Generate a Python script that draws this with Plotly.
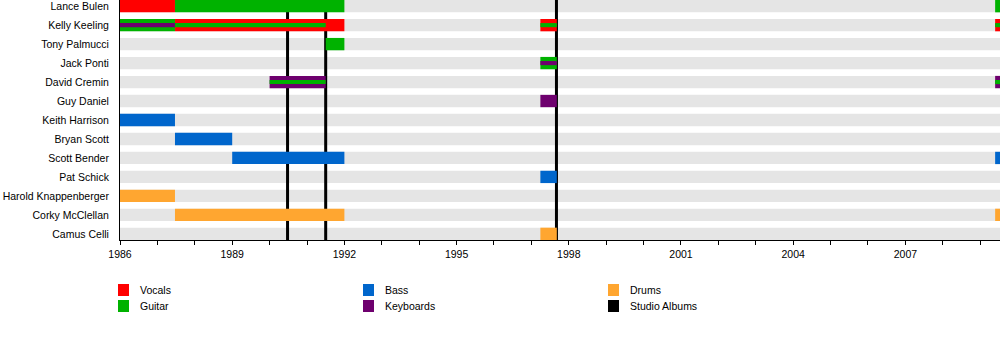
import plotly.graph_objects as go

# ---------------- data ----------------
members = ["Lance Bulen", "Kelly Keeling", "Tony Palmucci", "Jack Ponti", "David Cremin",
           "Guy Daniel", "Keith Harrison", "Bryan Scott", "Scott Bender", "Pat Schick",
           "Harold Knappenberger", "Corky McClellan", "Camus Celli"]

roles = ["Vocals", "Guitar", "Bass", "Keyboards", "Drums", "Studio Albums"]
role_colors = {"Vocals": "#FF0000", "Guitar": "#00B200", "Bass": "#0066CC",
               "Keyboards": "#6E006E", "Drums": "#FFA630", "Studio Albums": "#000000"}

# main bars
bar_member = ["Lance Bulen", "Lance Bulen", "Lance Bulen",
              "Kelly Keeling", "Kelly Keeling", "Kelly Keeling", "Kelly Keeling",
              "Tony Palmucci", "Jack Ponti", "David Cremin", "David Cremin",
              "Guy Daniel", "Keith Harrison", "Bryan Scott", "Scott Bender", "Scott Bender",
              "Pat Schick", "Harold Knappenberger", "Corky McClellan", "Corky McClellan",
              "Camus Celli"]
bar_role = ["Vocals", "Guitar", "Guitar",
            "Guitar", "Vocals", "Vocals", "Vocals",
            "Guitar", "Guitar", "Keyboards", "Keyboards",
            "Keyboards", "Bass", "Bass", "Bass", "Bass",
            "Bass", "Drums", "Drums", "Drums",
            "Drums"]
bar_start = [1986.0, 1987.47, 2009.40,
             1986.0, 1987.47, 1997.24, 2009.40,
             1991.50, 1997.24, 1990.0, 2009.40,
             1997.24, 1986.0, 1987.47, 1989.0, 2009.40,
             1997.24, 1986.0, 1987.47, 2009.40,
             1997.24]
bar_end = [1987.47, 1992.0, 2010.0,
           1987.47, 1992.0, 1997.68, 2010.0,
           1992.0, 1997.68, 1991.5, 2010.0,
           1997.68, 1987.47, 1989.0, 1992.0, 2010.0,
           1997.68, 1987.47, 1992.0, 2010.0,
           1997.68]

# secondary role stripes
stripe_member = ["Kelly Keeling", "Kelly Keeling", "Kelly Keeling", "Kelly Keeling",
                 "Jack Ponti", "David Cremin", "David Cremin"]
stripe_role = ["Keyboards", "Guitar", "Guitar", "Guitar",
               "Keyboards", "Guitar", "Guitar"]
stripe_start = [1986.0, 1987.47, 1997.24, 2009.40, 1997.24, 1990.0, 2009.40]
stripe_end = [1987.47, 1991.5, 1997.68, 2010.0, 1997.68, 1991.5, 2010.0]

album_years = [1990.48, 1991.5, 1997.67]

tick_years = [1986, 1989, 1992, 1995, 1998, 2001, 2004, 2007]

# ---------------- layout helpers ----------------
X0, X1 = 1986.0, 2009.53
W, H = 1000, 360
ML, MR, MT, MB = 120, 0, 0, 120
PW, PH = W - ML - MR, H - MT - MB
ROW_PX = PH / len(members)
BAR_H = 12 / ROW_PX
STRIPE_H = 4 / ROW_PX
Y_BOTTOM = len(members) - 1 + 6 / ROW_PX
Y_TOP = -6 / ROW_PX
idx = {m: i for i, m in enumerate(members)}

fig = go.Figure()

# main bars, grouped by role
for r in roles[:-1]:
    sel = [k for k in range(len(bar_member)) if bar_role[k] == r]
    if not sel:
        continue
    fig.add_trace(go.Bar(
        orientation="h",
        y=[idx[bar_member[k]] for k in sel],
        base=[bar_start[k] for k in sel],
        x=[bar_end[k] - bar_start[k] for k in sel],
        width=BAR_H, marker=dict(color=role_colors[r], line=dict(width=0)),
        showlegend=False, hoverinfo="skip"))

for r in roles[:-1]:
    sel = [k for k in range(len(stripe_member)) if stripe_role[k] == r]
    if not sel:
        continue
    fig.add_trace(go.Bar(
        orientation="h",
        y=[idx[stripe_member[k]] for k in sel],
        base=[stripe_start[k] for k in sel],
        x=[stripe_end[k] - stripe_start[k] for k in sel],
        width=STRIPE_H, marker=dict(color=role_colors[r], line=dict(width=0)),
        showlegend=False, hoverinfo="skip"))

shapes = []
# gray row backgrounds
for i in range(len(members)):
    shapes.append(dict(type="rect", xref="x", yref="y", x0=X0, x1=X1,
                       y0=i - BAR_H / 2, y1=i + BAR_H / 2,
                       fillcolor="#E5E5E5", line=dict(width=0), layer="below"))
# album lines
for a in album_years:
    shapes.append(dict(type="line", xref="x", yref="y", x0=a, x1=a, y0=Y_BOTTOM, y1=Y_TOP,
                       line=dict(color="black", width=3), layer="below"))


def px_x(p):
    return (p - ML) / PW


def px_y(p):
    return (MT + PH - p) / PH


annotations = []
legend_cols = [118, 363, 608]
legend_rows = [284, 300]
legend_order = [["Vocals", "Guitar"], ["Bass", "Keyboards"], ["Drums", "Studio Albums"]]
for c, col in enumerate(legend_order):
    for rr, name in enumerate(col):
        x = legend_cols[c]
        y = legend_rows[rr]
        shapes.append(dict(type="rect", xref="paper", yref="paper",
                           x0=px_x(x), x1=px_x(x + 11), y0=px_y(y + 12), y1=px_y(y),
                           fillcolor=role_colors[name], line=dict(width=0)))
        annotations.append(dict(xref="paper", yref="paper", x=px_x(x + 20), y=px_y(y + 6),
                                text=name, showarrow=False, xanchor="left", yanchor="middle",
                                font=dict(size=10.5, color="#000000")))

fig.update_layout(
    width=W, height=H,
    margin=dict(l=ML, r=MR, t=MT, b=MB, pad=0, autoexpand=False),
    paper_bgcolor="white", plot_bgcolor="white",
    barmode="overlay",
    font=dict(family="Liberation Sans, Arial, sans-serif", size=10.5, color="#000000"),
    shapes=shapes, annotations=annotations,
    xaxis=dict(range=[X0, X1], showgrid=False, zeroline=False, automargin=False,
               showline=True, linecolor="black", linewidth=1,
               tickmode="array", tickvals=tick_years, ticktext=[str(t) for t in tick_years],
               ticks="outside", ticklen=4, tickcolor="black", tickwidth=1,
               minor=dict(dtick=1, tick0=1986, ticks="outside", ticklen=4,
                          tickcolor="black", tickwidth=1),
               tickfont=dict(size=10.5), ticklabeloverflow="allow"),
    yaxis=dict(range=[Y_BOTTOM, Y_TOP], automargin=False,
               tickmode="array", tickvals=list(range(len(members))), ticktext=members,
               showgrid=False, zeroline=False, showline=True, linecolor="black", linewidth=1,
               ticks="", ticklabelstandoff=8, tickfont=dict(size=10.5),
               ticklabeloverflow="allow"),
)

fig.write_html("out.html", config={"displayModeBar": False},
               post_script="document.body.style.margin='0px';")
